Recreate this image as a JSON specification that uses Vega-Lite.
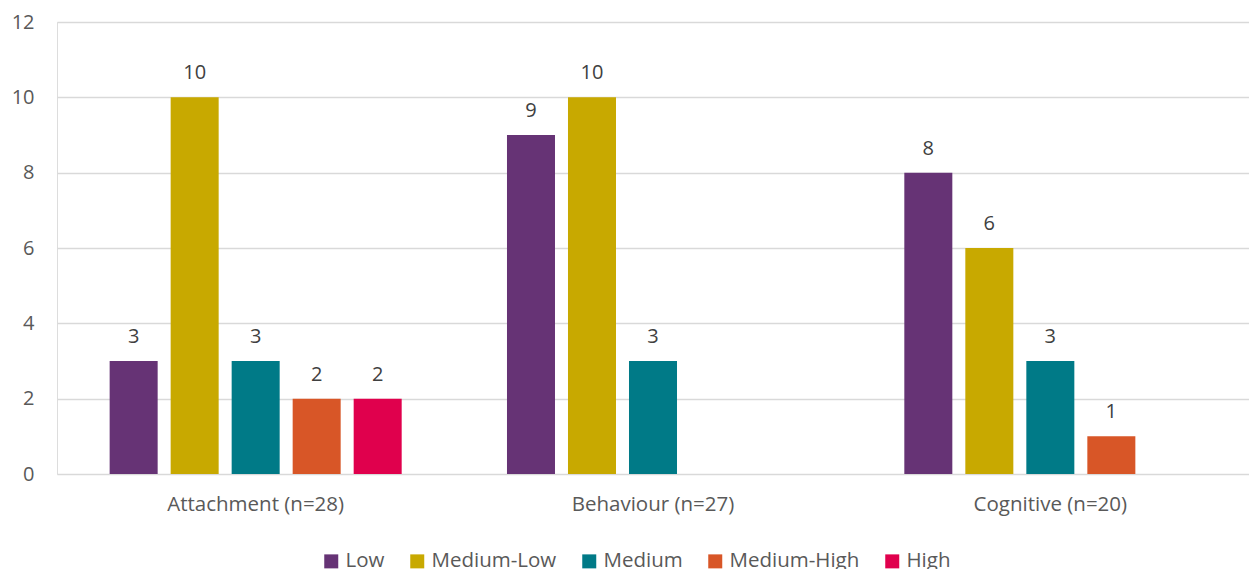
{
  "$schema": "https://vega.github.io/schema/vega-lite/v6.json",
  "autosize": {"type": "none"},
  "padding": {"left": 57, "top": 22, "right": 0, "bottom": 95},
  "width": 1192,
  "height": 452,
  "background": "white",
  "data": {
    "values": [
      {"group": "Attachment (n=28)", "level": "Low", "value": 3},
      {"group": "Attachment (n=28)", "level": "Medium-Low", "value": 10},
      {"group": "Attachment (n=28)", "level": "Medium", "value": 3},
      {"group": "Attachment (n=28)", "level": "Medium-High", "value": 2},
      {"group": "Attachment (n=28)", "level": "High", "value": 2},
      {"group": "Behaviour (n=27)", "level": "Low", "value": 9},
      {"group": "Behaviour (n=27)", "level": "Medium-Low", "value": 10},
      {"group": "Behaviour (n=27)", "level": "Medium", "value": 3},
      {"group": "Cognitive (n=20)", "level": "Low", "value": 8},
      {"group": "Cognitive (n=20)", "level": "Medium-Low", "value": 6},
      {"group": "Cognitive (n=20)", "level": "Medium", "value": 3},
      {"group": "Cognitive (n=20)", "level": "Medium-High", "value": 1}
    ]
  },
  "encoding": {
    "x": {
      "field": "group", "type": "nominal",
      "sort": ["Attachment (n=28)", "Behaviour (n=27)", "Cognitive (n=20)"],
      "scale": {"paddingInner": 0, "paddingOuter": 0},
      "axis": {"title": null, "labelAngle": 0, "domain": false, "ticks": false, "grid": false,
               "labelFont": "Open Sans", "labelFontSize": 20.5, "labelColor": "#595959", "labelPadding": 20, "labelBaseline": "top"}
    },
    "xOffset": {
      "field": "level", "type": "nominal",
      "sort": ["Low", "Medium-Low", "Medium", "Medium-High", "High"],
      "scale": {"domain": ["Low", "Medium-Low", "Medium", "Medium-High", "High"], "paddingInner": 0.213, "paddingOuter": 0.863}
    },
    "y": {
      "field": "value", "type": "quantitative",
      "scale": {"domain": [0, 12], "nice": false},
      "axis": {"title": null, "values": [0, 2, 4, 6, 8, 10, 12], "domain": false, "ticks": false,
               "gridColor": "#d9d9d9", "gridWidth": 1.5,
               "labelFont": "Open Sans", "labelFontSize": 20, "labelColor": "#595959", "labelPadding": 23}
    }
  },
  "layer": [
    {
      "mark": {"type": "bar"},
      "encoding": {
        "color": {
          "field": "level", "type": "nominal",
          "scale": {"domain": ["Low", "Medium-Low", "Medium", "Medium-High", "High"],
                    "range": ["#663375", "#C8A900", "#007A87", "#D85627", "#E0004D"]},
          "legend": {
            "title": null, "orient": "none", "direction": "horizontal",
            "legendX": 264, "legendY": 529, "padding": 0,
            "symbolType": "square", "symbolSize": 196, "symbolStrokeWidth": 0,
            "labelFont": "Open Sans", "labelFontSize": 20.5, "labelColor": "#595959",
            "labelOffset": 4, "columnPadding": 22
          }
        }
      }
    },
    {
      "mark": {"type": "text", "baseline": "alphabetic", "dy": -18, "font": "Open Sans", "fontSize": 20, "color": "#404040"},
      "encoding": {"text": {"field": "value", "type": "quantitative"}}
    }
  ]
}
